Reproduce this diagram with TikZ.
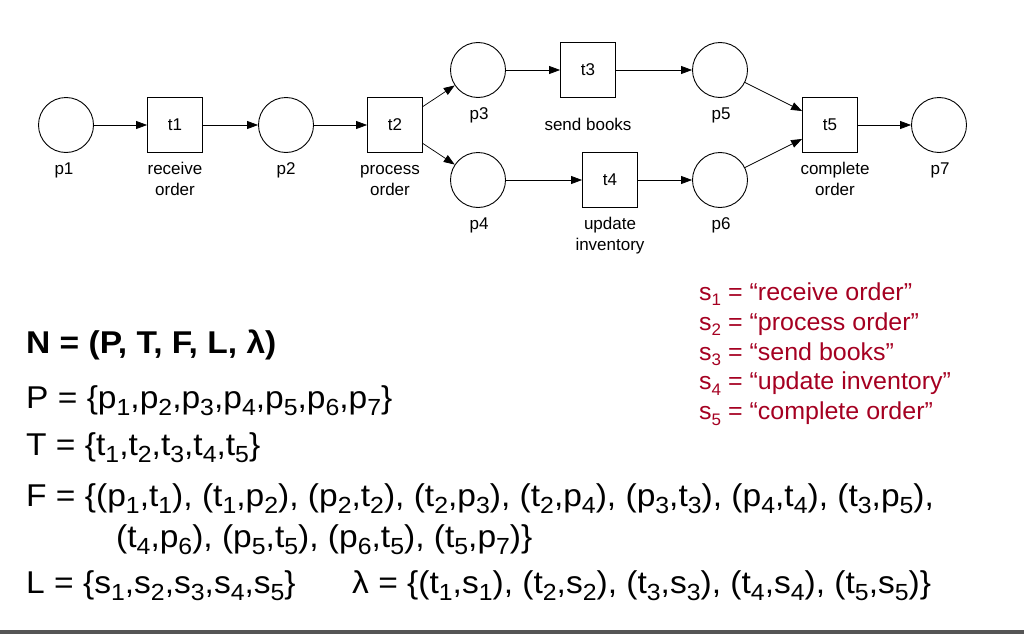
\documentclass[tikz,border=0pt]{standalone}
\usepackage{fontspec}
\setmainfont{Liberation Sans}
\newfontfamily\widesans[FakeStretch=1.065]{Liberation Sans}
\newfontfamily\redsans[FakeStretch=1.02]{Liberation Sans}
\usetikzlibrary{arrows.meta}
\definecolor{sred}{HTML}{A50021}
\definecolor{barcol}{HTML}{555555}
\newcommand\subx[1]{\raisebox{-0.22em}{\scalebox{0.68}{#1}}}
\newcommand\subb[1]{\raisebox{-0.24em}{\scalebox{0.74}{#1}}}
\newcommand\twol[2]{\begin{tabular}[t]{@{}c@{}}#1\\#2\end{tabular}}
\tikzset{
  place/.style={circle,draw,line width=0.9pt,minimum size=55pt,inner sep=0pt},
  trans/.style={rectangle,draw,line width=0.9pt,minimum size=55pt,inner sep=0pt,font=\fontsize{17}{21}\selectfont},
  lbl/.style={font=\fontsize{17}{21}\selectfont,anchor=base,inner sep=0pt},
  arc/.style={line width=0.7pt,-{Triangle[length=11pt,width=8pt]}},
  big/.style={font=\widesans\fontsize{31.5}{37}\selectfont,anchor=base west,inner sep=0pt},
  sline/.style={font=\redsans\fontsize{24.5}{29}\selectfont,text=sred,anchor=base west,inner sep=0pt},
}
\begin{document}
\begin{tikzpicture}[x=1pt,y=-1pt]
\useasboundingbox (0,0) rectangle (1024,634);
\fill[barcol] (0,630) rectangle (1024,634);
% places and transitions
\node[place] (p1) at (66,125) {};
\node[trans] (t1) at (175,125) {t1};
\node[place] (p2) at (286,125) {};
\node[trans] (t2) at (395,125) {t2};
\node[place] (p3) at (478,70) {};
\node[place] (p4) at (478,180) {};
\node[trans] (t3) at (588,70) {t3};
\node[trans] (t4) at (610,180) {t4};
\node[place] (p5) at (720,70) {};
\node[place] (p6) at (720,180) {};
\node[trans] (t5) at (830,125) {t5};
\node[place] (p7) at (939,125) {};
% labels
\node[lbl] (lp1) at (64,174) {p1};
\node[lbl] (lt1) at (175,174) {\twol{receive}{order}};
\node[lbl] (lp2) at (286,174) {p2};
\node[lbl] (lt2) at (390,174) {\twol{process}{order}};
\node[lbl] (lp3) at (479,119) {p3};
\node[lbl] (lp4) at (479,229) {p4};
\node[lbl] (lt3) at (588,130) {send books};
\node[lbl] (lt4) at (610,229) {\twol{update}{inventory}};
\node[lbl] (lp5) at (721,119) {p5};
\node[lbl] (lp6) at (721,229) {p6};
\node[lbl] (lt5) at (835,174) {\twol{complete}{order}};
\node[lbl] (lp7) at (940,174) {p7};
% arcs
\draw[arc] (p1) -- (t1);
\draw[arc] (t1) -- (p2);
\draw[arc] (p2) -- (t2);
\draw[arc] (t2) -- (p3);
\draw[arc] (t2) -- (p4);
\draw[arc] (p3) -- (t3);
\draw[arc] (p4) -- (t4);
\draw[arc] (t3) -- (p5);
\draw[arc] (t4) -- (p6);
\draw[arc] (p5) -- (t5);
\draw[arc] (p6) -- (t5);
\draw[arc] (t5) -- (p7);
% red label definitions
\node[sline] (s1) at (699,300.5) {s\subx{1} = “receive order”};
\node[sline] (s2) at (699,330.3) {s\subx{2} = “process order”};
\node[sline] (s3) at (699,360.1) {s\subx{3} = “send books”};
\node[sline] (s4) at (699,389.9) {s\subx{4} = “update inventory”};
\node[sline] (s5) at (699,419.7) {s\subx{5} = “complete order”};
% formal definition
\node[big,font=\widesans\fontsize{31.5}{38}\selectfont\bfseries] (N) at (26,353) {N = (P, T, F, L, λ)};
\node[big] (P) at (26,408) {P = \{p\subb{1},p\subb{2},p\subb{3},p\subb{4},p\subb{5},p\subb{6},p\subb{7}\}};
\node[big] (T) at (26,455) {T = \{t\subb{1},t\subb{2},t\subb{3},t\subb{4},t\subb{5}\}};
\node[big] (F) at (26,506) {F = \{(p\subb{1},t\subb{1}), (t\subb{1},p\subb{2}), (p\subb{2},t\subb{2}), (t\subb{2},p\subb{3}), (t\subb{2},p\subb{4}), (p\subb{3},t\subb{3}), (p\subb{4},t\subb{4}), (t\subb{3},p\subb{5}),};
\node[big] (F2) at (116,547) {(t\subb{4},p\subb{6}), (p\subb{5},t\subb{5}), (p\subb{6},t\subb{5}), (t\subb{5},p\subb{7})\}};
\node[big] (L) at (26,593) {L = \{s\subb{1},s\subb{2},s\subb{3},s\subb{4},s\subb{5}\}};
\node[big] (lam) at (352,593) {λ = \{(t\subb{1},s\subb{1}), (t\subb{2},s\subb{2}), (t\subb{3},s\subb{3}), (t\subb{4},s\subb{4}), (t\subb{5},s\subb{5})\}};
\end{tikzpicture}
\end{document}
